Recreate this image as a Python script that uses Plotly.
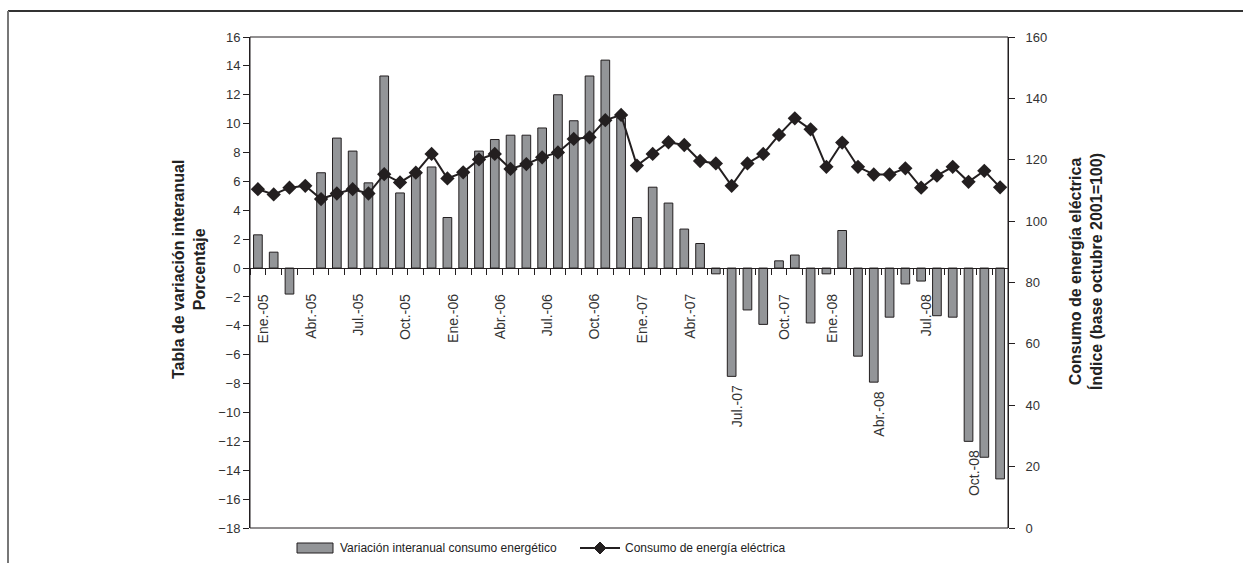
import plotly.graph_objects as go

months = ["Ene.", "Feb.", "Mar.", "Abr.", "May.", "Jun.", "Jul.", "Ago.", "Sep.", "Oct.", "Nov.", "Dic."]
years = ["05", "06", "07", "08"]
categories = [f"{m}-{y}" for y in years for m in months]

variacion = [
    2.3, 1.1, -1.8, None, 6.6, 9.0, 8.1, 5.9, 13.3, 5.2, 6.6, 7.0,
    3.5, 6.5, 8.1, 8.9, 9.2, 9.2, 9.7, 12.0, 10.2, 13.3, 14.4, 10.4,
    3.5, 5.6, 4.5, 2.7, 1.7, -0.4, -7.5, -2.9, -3.9, 0.5, 0.9, -3.8,
    -0.4, 2.6, -6.1, -7.9, -3.4, -1.1, -0.9, -3.3, -3.4, -12.0, -13.1, -14.6,
]
consumo = [
    110.4, 108.7, 110.9, 111.5, 107.2, 109.0, 110.4, 109.0, 115.3, 112.6, 115.8, 121.9,
    113.9, 115.9, 120.1, 121.9, 117.0, 118.6, 120.8, 122.4, 126.8, 127.3, 132.9, 134.6,
    118.1, 121.9, 125.7, 124.8, 119.6, 118.8, 111.5, 118.8, 121.9, 128.1, 133.5, 129.9,
    117.7, 125.6, 117.7, 115.2, 115.2, 117.2, 110.9, 114.8, 117.7, 112.8, 116.4, 111.0,
]
label_every = 3
bar_name = "Variación interanual consumo energético"
line_name = "Consumo de energía eléctrica"

FONT = "Liberation Sans, Arial, sans-serif"
INK = "#231f20"
BAR = "#939598"
TXT = "#222"
TICKTXT = "#333"

# pixel geometry of the plot area
L, R, T, B = 250, 1008, 37, 528
W, H = R - L, B - T


def px(x):
    return (x - L) / W


def py(y):
    return (B - y) / H


fig = go.Figure()
fig.add_trace(go.Bar(
    x=categories, y=variacion, name=bar_name, showlegend=False,
    marker=dict(color=BAR, line=dict(color=INK, width=1)),
    yaxis="y", xaxis="x",
))
fig.add_trace(go.Scatter(
    x=categories, y=consumo, name=line_name, showlegend=False,
    mode="lines+markers", line=dict(color=INK, width=2),
    marker=dict(symbol="diamond", size=11, color=INK),
    yaxis="y2", xaxis="x",
))

ymin, ymax = -18, 16
zero_pos = (0 - ymin) / (ymax - ymin)

# category labels (below zero line, or below the bar end)
for i, (c, v) in enumerate(zip(categories, variacion)):
    if i % label_every == 0:
        vv = v if v is not None else 0
        fig.add_annotation(
            x=c, y=min(-1.66, vv - 0.5), xref="x", yref="y", text=c,
            textangle=-90, xanchor="center", yanchor="top", showarrow=False,
            xshift=5, font=dict(family=FONT, size=14, color=TICKTXT),
        )

fig.update_layout(
    width=1243, height=563,
    margin=dict(l=L, r=1243 - R, t=T, b=563 - B),
    paper_bgcolor="white", plot_bgcolor="white",
    font=dict(family=FONT, size=13, color=TICKTXT),
    bargap=0.45,
    showlegend=False,
    xaxis=dict(type="category", categoryorder="array", categoryarray=categories,
               range=[-0.5, len(categories) - 0.5], anchor="free", position=zero_pos,
               showline=True, linecolor=INK, linewidth=1,
               ticks="outside", ticklen=6, tickcolor=INK, tickson="boundaries",
               showticklabels=False, showgrid=False, zeroline=False),
    xaxis3=dict(overlaying="x", range=[-0.5, len(categories) - 0.5], anchor="free",
                position=zero_pos, tickmode="linear", tick0=-0.5, dtick=1,
                ticks="inside", ticklen=6, tickcolor=INK, showticklabels=False,
                showgrid=False, zeroline=False, showline=False),
    yaxis=dict(range=[ymin, ymax], dtick=2, ticks="outside", ticklen=6, tickcolor=INK,
               showline=True, linecolor=INK, linewidth=1, showgrid=False, zeroline=False,
               tickfont=dict(size=13)),
    yaxis3=dict(overlaying="y", range=[ymin, ymax], dtick=2, ticks="inside", ticklen=6,
                tickcolor=INK, showticklabels=False, showgrid=False, zeroline=False,
                showline=False, anchor="x"),
    yaxis2=dict(overlaying="y", side="right", range=[0, 160], dtick=20, ticks="outside",
                ticklen=6, tickcolor=INK, showline=True, linecolor=INK, linewidth=1,
                showgrid=False, zeroline=False, ticklabelstandoff=8, tickfont=dict(size=13)),
    yaxis4=dict(overlaying="y", side="right", range=[0, 160], dtick=20, ticks="inside",
                ticklen=6, tickcolor=INK, showticklabels=False, showgrid=False,
                zeroline=False, showline=False, anchor="x"),
)

# plot area frame and outer frame
fig.add_shape(type="rect", xref="paper", yref="paper", x0=0, x1=1, y0=0, y1=1,
              line=dict(color=INK, width=1), layer="above")
fig.add_shape(type="line", xref="paper", yref="paper", x0=px(8), x1=px(1243),
              y0=py(11), y1=py(11), line=dict(color="#333", width=2))
fig.add_shape(type="line", xref="paper", yref="paper", x0=px(8), x1=px(8),
              y0=py(11), y1=py(570), line=dict(color="#777", width=2))

# custom legend (wide bar swatch, line with diamond)
ly = 548
fig.add_shape(type="rect", xref="paper", yref="paper", x0=px(297), x1=px(333),
              y0=py(543), y1=py(553), fillcolor=BAR, line=dict(color=INK, width=1))
fig.add_annotation(xref="paper", yref="paper", x=px(338), y=py(ly), text=bar_name,
                   showarrow=False, xanchor="left", yanchor="middle",
                   font=dict(family=FONT, size=12, color=TXT))
fig.add_shape(type="line", xref="paper", yref="paper", x0=px(580), x1=px(620),
              y0=py(ly), y1=py(ly), line=dict(color=INK, width=2))
fig.add_shape(type="path", xref="paper", yref="paper",
              path=f"M {px(600)} {py(ly - 6)} L {px(606)} {py(ly)} L {px(600)} {py(ly + 6)} "
                   f"L {px(594)} {py(ly)} Z",
              fillcolor=INK, line=dict(color=INK, width=1))
fig.add_annotation(xref="paper", yref="paper", x=px(623), y=py(ly), text=line_name,
                   showarrow=False, xanchor="left", yanchor="middle",
                   font=dict(family=FONT, size=12, color=TXT))

# axis titles
fig.add_annotation(xref="paper", yref="paper", x=px(189), y=py(270),
                   text="<b>Tabla de variación interanual<br>Porcentaje</b>", textangle=-90,
                   showarrow=False, xanchor="center", yanchor="middle",
                   font=dict(family=FONT, size=16, color=TXT))
fig.add_annotation(xref="paper", yref="paper", x=px(1086), y=py(272),
                   text="<b>Consumo de energía eléctrica<br>Índice (base octubre 2001=100)</b>",
                   textangle=-90, showarrow=False, xanchor="center", yanchor="middle",
                   font=dict(family=FONT, size=16, color=TXT))

fig.write_html("out.html", config={"displayModeBar": False},
               post_script="document.body.style.margin='0';")
